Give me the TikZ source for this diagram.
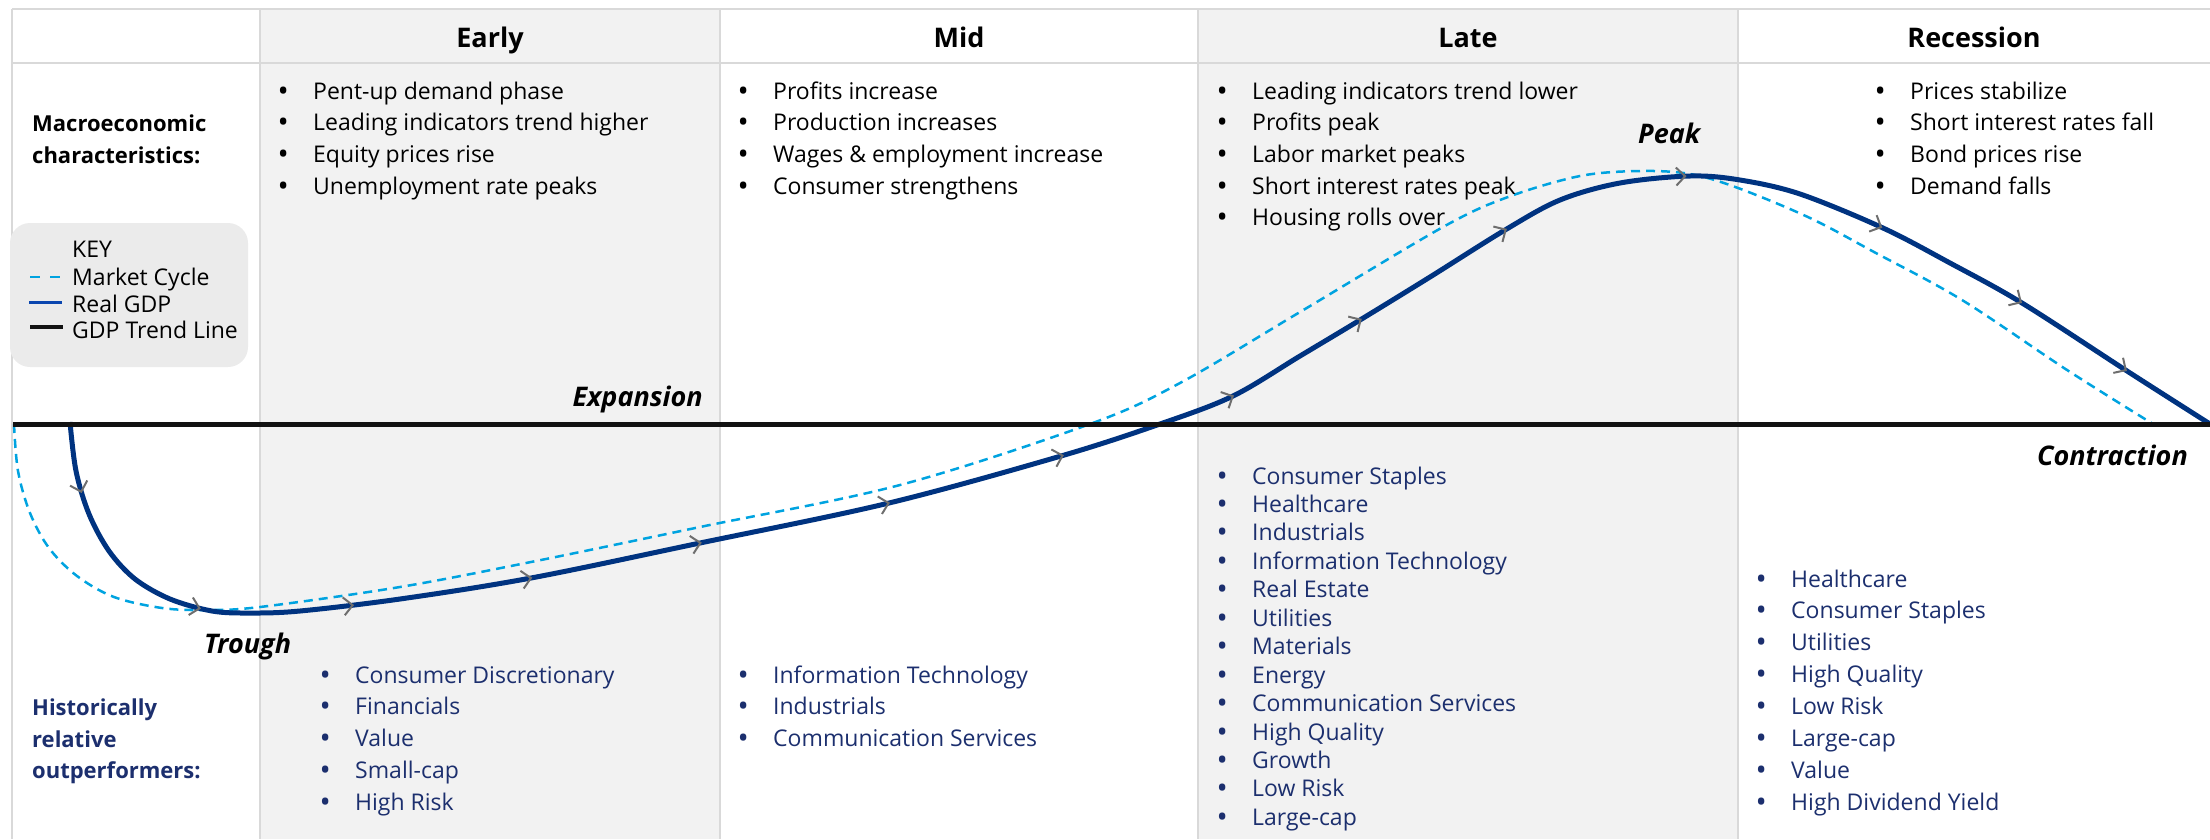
\documentclass[tikz,border=0pt]{standalone}
\usepackage{fontspec}
\setmainfont{Open Sans}
\usetikzlibrary{arrows.meta,decorations.markings}

\definecolor{gridgray}{RGB}{217,217,217}
\definecolor{colgray}{RGB}{242,242,242}
\definecolor{keygray}{RGB}{235,235,235}
\definecolor{gdpblue}{RGB}{0,51,128}
\definecolor{keyblue}{RGB}{10,70,175}
\definecolor{mktblue}{RGB}{0,163,224}
\definecolor{sectornavy}{RGB}{28,47,110}
\definecolor{arrowgray}{RGB}{110,110,110}

\newcommand{\bul}{\makebox[0pt]{\raisebox{-2pt}{\scalebox{1.3}{\textbullet}}}\hspace{30pt}}
\newcommand{\gdptip}{\arrow[arrowgray]{Straight Barb[length=9pt,width=18pt,line width=2pt,color=arrowgray]}}

\tikzset{
  grid line/.style={draw=gridgray, line width=2.5pt},
  head/.style={font=\fontsize{27}{32}\selectfont\bfseries, anchor=base, inner sep=0pt},
  item/.style={font=\fontsize{23}{30}\selectfont, anchor=base west, inner sep=0pt},
  sector/.style={item, text=sectornavy},
  rowlabel/.style={font=\fontsize{22}{30}\selectfont\bfseries, anchor=base west, inner sep=0pt},
  phase/.style={font=\fontsize{27}{32}\selectfont\bfseries\itshape, inner sep=0pt},
  trend/.style={draw=black!93, line width=5pt},
  mkt/.style={draw=mktblue, line width=2.5pt, dash pattern=on 9pt off 6pt},
  gdp/.style={draw=gdpblue, line width=5pt, postaction={decorate},
    decoration={markings,
      mark=at position 0.030 with {\gdptip},
      mark=at position 0.103 with {\gdptip},
      mark=at position 0.167 with {\gdptip},
      mark=at position 0.242 with {\gdptip},
      mark=at position 0.314 with {\gdptip},
      mark=at position 0.394 with {\gdptip},
      mark=at position 0.469 with {\gdptip},
      mark=at position 0.544 with {\gdptip},
      mark=at position 0.606 with {\gdptip},
      mark=at position 0.677 with {\gdptip},
      mark=at position 0.756 with {\gdptip},
      mark=at position 0.841 with {\gdptip},
      mark=at position 0.907 with {\gdptip},
      mark=at position 0.959 with {\gdptip}}},
}

\begin{document}
\begin{tikzpicture}[x=1pt, y=-1pt]
\useasboundingbox (0,0) rectangle (2210,839);

% shaded phase columns
\fill[colgray] (260,9) rectangle (720,839);
\fill[colgray] (1198,9) rectangle (1738,839);

% table lines
\draw[grid line] (12,9) -- (2210,9);
\draw[grid line] (12,63) -- (2210,63);
\draw[grid line] (12,9) -- (12,839);
\foreach \x in {260,720,1198,1738} \draw[grid line] (\x,9) -- (\x,839);

% key
\draw[fill=keygray, draw=none, rounded corners=20pt] (10,223) rectangle (248,367);
\node[coordinate] (k1) at (30,277) {};
\node[coordinate] (k2) at (62,277) {};
\node[coordinate] (k3) at (29,302) {};
\node[coordinate] (k4) at (62,302) {};
\node[coordinate] (k5) at (30,327) {};
\node[coordinate] (k6) at (63,327) {};
\draw[mkt, dash pattern=on 10pt off 10pt] (k1)--(k2);
\draw[draw=keyblue, line width=3pt] (k3)--(k4);
\draw[trend, line width=4.5pt] (k5)--(k6);
\node[item] (keytitle) at (72,257) {KEY};
\node[item] (keymkt) at (72,285) {Market Cycle};
\node[item] (keygdp) at (72,312) {Real GDP};
\node[item] (keytrend) at (72,338) {GDP Trend Line};

% market cycle and real GDP
\draw[mkt] plot[smooth, tension=0.55] coordinates {(14,424) (18,471) (30,513) (49,548) (77,576) (114,597) (162,608) (205,610) (260,607) (400,587) (531,562) (700,527) (900,485) (1090,424) (1180,383) (1300,312) (1443,227) (1508,197) (1580,176) (1640,171) (1690,174) (1738,188) (1810,218) (1874,252) (1962,300) (2067,370) (2153,424)};

\draw[gdp] plot[smooth, tension=0.55] coordinates {(70,422) (76,471) (89,514) (109,551) (135,579) (170,599) (212,611) (250,613) (300,611) (400,599) (531,578) (700,543) (889,503) (1061,456) (1160,424) (1233,396) (1300,356) (1360,320) (1430,277) (1505,230) (1560,200) (1620,183) (1690,176) (1740,180) (1800,194) (1883,228) (1950,263) (2022,303) (2127,371) (2210,424)};

% trend line
\node[coordinate] (trendL) at (13,424) {};
\node[coordinate] (trendR) at (2210,424) {};
\draw[trend] (trendL)--(trendR);

% headers
\node[head] (early) at (490,47) {Early};
\node[head] (mid) at (959,47) {Mid};
\node[head] (late) at (1468,47) {Late};
\node[head] (recession) at (1974,47) {Recession};

\node[rowlabel] (macro1) at (32,131) {Macroeconomic};
\node[rowlabel] (macro2) at (32,163) {characteristics:};
\node[rowlabel, text=sectornavy] (hist1) at (32,715) {Historically};
\node[rowlabel, text=sectornavy] (hist2) at (32,747) {relative};
\node[rowlabel, text=sectornavy] (hist3) at (32,778) {outperformers:};

% phase labels
\node[phase, anchor=base east] (expansion) at (703,406) {Expansion};
\node[phase, anchor=base west] (trough) at (204,653) {Trough};
\node[phase, anchor=base west] (peak) at (1638,143) {Peak};
\node[phase, anchor=base east] (contraction) at (2188,465) {Contraction};

% macroeconomic characteristics
\foreach \txt [count=\i] in {Pent-up demand phase, Leading indicators trend higher, Equity prices rise, Unemployment rate peaks}
  \node[item] (earlymacro-\i) at (283,{99+31.7*(\i-1)}) {\bul\txt};
\foreach \txt [count=\i] in {Profits increase, Production increases, Wages \& employment increase, Consumer strengthens}
  \node[item] (midmacro-\i) at (743,{99+31.7*(\i-1)}) {\bul\txt};
\foreach \txt [count=\i] in {Leading indicators trend lower, Profits peak, Labor market peaks, Short interest rates peak, Housing rolls over}
  \node[item] (latemacro-\i) at (1222,{99+31.7*(\i-1)}) {\bul\txt};
\foreach \txt [count=\i] in {Prices stabilize, Short interest rates fall, Bond prices rise, Demand falls}
  \node[item] (recmacro-\i) at (1880,{99+31.7*(\i-1)}) {\bul\txt};

% outperformers
\foreach \txt [count=\i] in {Consumer Discretionary, Financials, Value, Small-cap, High Risk}
  \node[sector] (earlysector-\i) at (325,{683+31.8*(\i-1)}) {\bul\txt};
\foreach \txt [count=\i] in {Information Technology, Industrials, Communication Services}
  \node[sector] (midsector-\i) at (743,{683+31.8*(\i-1)}) {\bul\txt};
\foreach \txt [count=\i] in {Consumer Staples, Healthcare, Industrials, Information Technology, Real Estate, Utilities, Materials, Energy, Communication Services, High Quality, Growth, Low Risk, Large-cap}
  \node[sector] (latesector-\i) at (1222,{484+28.45*(\i-1)}) {\bul\txt};
\foreach \txt [count=\i] in {Healthcare, Consumer Staples, Utilities, High Quality, Low Risk, Large-cap, Value, High Dividend Yield}
  \node[sector] (recsector-\i) at (1761,{587+31.9*(\i-1)}) {\bul\txt};

\end{tikzpicture}
\end{document}
